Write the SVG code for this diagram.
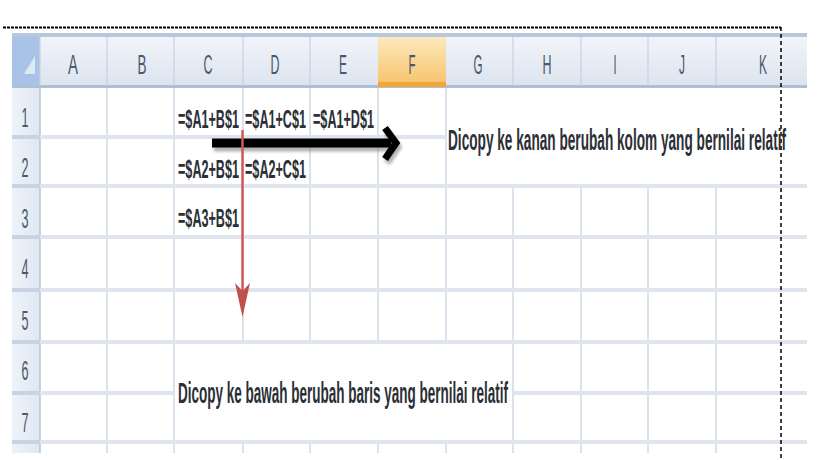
<svg xmlns="http://www.w3.org/2000/svg" width="819" height="460" viewBox="0 0 819 460">
<defs>
<linearGradient id="hdr" x1="0" y1="0" x2="0" y2="1"><stop offset="0" stop-color="#f3f6fb"/><stop offset="1" stop-color="#dbe3ee"/></linearGradient>
<linearGradient id="hdrF" x1="0" y1="0" x2="0" y2="1"><stop offset="0" stop-color="#fde9bf"/><stop offset="1" stop-color="#f7c36a"/></linearGradient>
<linearGradient id="rowh" x1="0" y1="0" x2="1" y2="0"><stop offset="0" stop-color="#eef3fa"/><stop offset="1" stop-color="#dfe7f2"/></linearGradient>
<filter id="blur" x="-10%" y="-50%" width="120%" height="200%"><feGaussianBlur stdDeviation="1.6"/></filter>
</defs>
<style>
.hl{font-family:"Liberation Sans",Arial,sans-serif;font-size:27px;fill:#4b5868;text-anchor:middle}
.rn{font-family:"Liberation Sans",Arial,sans-serif;font-size:27px;fill:#4b5868;text-anchor:middle}
.f{font-family:"Liberation Sans",Arial,sans-serif;font-size:26px;font-weight:bold;fill:#2b2f36}
.note{font-family:"Liberation Sans",Arial,sans-serif;font-size:30px;font-weight:bold;fill:#2b2f36}
.vg{stroke:#d3dbe8;stroke-width:1.6}
.hg{stroke:#dfe4ee;stroke-width:4}
.hgr{stroke:#c9d3e1;stroke-width:4}
.hsep{stroke:#c6d1df;stroke-width:1.2}
</style>
<rect width="819" height="460" fill="#ffffff"/>
<g id="sheet">
<rect x="40" y="88" width="767" height="365" fill="#ffffff"/>
<rect x="12" y="88" width="28" height="365" fill="url(#rowh)"/>
<line x1="40" y1="88" x2="40" y2="453" stroke="#b6c4d6" stroke-width="1.5"/>
<g id="vgrid">
<line class="vg" x1="107" y1="88" x2="107" y2="453"/>
<line class="vg" x1="174" y1="88" x2="174" y2="453"/>
<line class="vg" x1="243" y1="88" x2="243" y2="342"/>
<line class="vg" x1="243" y1="442" x2="243" y2="453"/>
<line class="vg" x1="310" y1="88" x2="310" y2="342"/>
<line class="vg" x1="310" y1="442" x2="310" y2="453"/>
<line class="vg" x1="378" y1="88" x2="378" y2="342"/>
<line class="vg" x1="378" y1="442" x2="378" y2="453"/>
<line class="vg" x1="446" y1="88" x2="446" y2="342"/>
<line class="vg" x1="446" y1="442" x2="446" y2="453"/>
<line class="vg" x1="513" y1="186" x2="513" y2="453"/>
<line class="vg" x1="581" y1="186" x2="581" y2="453"/>
<line class="vg" x1="648" y1="186" x2="648" y2="453"/>
<line class="vg" x1="716" y1="186" x2="716" y2="453"/>
</g>
<g id="hgrid">
<line class="hg" x1="40" y1="137" x2="446" y2="137"/>
<line class="hg" x1="40" y1="186" x2="807" y2="186"/>
<line class="hg" x1="40" y1="237" x2="807" y2="237"/>
<line class="hg" x1="40" y1="290" x2="807" y2="290"/>
<line class="hg" x1="40" y1="342" x2="807" y2="342"/>
<line class="hg" x1="40" y1="393" x2="174" y2="393"/>
<line class="hg" x1="513" y1="393" x2="807" y2="393"/>
<line class="hg" x1="40" y1="442" x2="807" y2="442"/>
<line class="hgr" x1="12" y1="137" x2="40" y2="137"/>
<line class="hgr" x1="12" y1="186" x2="40" y2="186"/>
<line class="hgr" x1="12" y1="237" x2="40" y2="237"/>
<line class="hgr" x1="12" y1="290" x2="40" y2="290"/>
<line class="hgr" x1="12" y1="342" x2="40" y2="342"/>
<line class="hgr" x1="12" y1="393" x2="40" y2="393"/>
<line class="hgr" x1="12" y1="442" x2="40" y2="442"/>
</g>
</g>
<g id="header">
<rect x="12" y="33" width="795" height="55" fill="url(#hdr)"/>
<rect x="12" y="33" width="795" height="4" fill="#b7c8dc"/>
<rect x="12" y="85" width="795" height="3" fill="#aebfd3"/>
<rect x="378" y="37" width="68" height="48" fill="url(#hdrF)"/>
<rect x="378" y="82" width="68" height="5" fill="#f1a53c"/>
<rect x="12" y="37" width="28" height="49" fill="#a9c3e6"/>
<polygon points="24,74 35,74 35,56" fill="#dfe8f5"/>
<g class="hsep">
<line x1="40" y1="37" x2="40" y2="85"/>
<line x1="107" y1="37" x2="107" y2="85"/>
<line x1="174" y1="37" x2="174" y2="85"/>
<line x1="243" y1="37" x2="243" y2="85"/>
<line x1="310" y1="37" x2="310" y2="85"/>
<line x1="513" y1="37" x2="513" y2="85"/>
<line x1="581" y1="37" x2="581" y2="85"/>
<line x1="648" y1="37" x2="648" y2="85"/>
<line x1="716" y1="37" x2="716" y2="85"/>
</g>
<text class="hl" x="73" y="74" textLength="10" lengthAdjust="spacingAndGlyphs">A</text>
<text class="hl" x="142" y="74" textLength="9" lengthAdjust="spacingAndGlyphs">B</text>
<text class="hl" x="208" y="74" textLength="9" lengthAdjust="spacingAndGlyphs">C</text>
<text class="hl" x="275" y="74" textLength="9" lengthAdjust="spacingAndGlyphs">D</text>
<text class="hl" x="343" y="74" textLength="8" lengthAdjust="spacingAndGlyphs">E</text>
<text class="hl" x="412" y="74" textLength="7" lengthAdjust="spacingAndGlyphs">F</text>
<text class="hl" x="478" y="74" textLength="9" lengthAdjust="spacingAndGlyphs">G</text>
<text class="hl" x="547" y="74" textLength="9" lengthAdjust="spacingAndGlyphs">H</text>
<text class="hl" x="615" y="74" textLength="3" lengthAdjust="spacingAndGlyphs">I</text>
<text class="hl" x="682" y="74" textLength="6" lengthAdjust="spacingAndGlyphs">J</text>
<text class="hl" x="763" y="74" textLength="8" lengthAdjust="spacingAndGlyphs">K</text>
</g>
<g id="rownums">
<text class="rn" x="25" y="127" textLength="7" lengthAdjust="spacingAndGlyphs">1</text>
<text class="rn" x="25" y="177" textLength="7" lengthAdjust="spacingAndGlyphs">2</text>
<text class="rn" x="25" y="228" textLength="7" lengthAdjust="spacingAndGlyphs">3</text>
<text class="rn" x="25" y="278" textLength="7" lengthAdjust="spacingAndGlyphs">4</text>
<text class="rn" x="25" y="330" textLength="7" lengthAdjust="spacingAndGlyphs">5</text>
<text class="rn" x="25" y="380" textLength="7" lengthAdjust="spacingAndGlyphs">6</text>
<text class="rn" x="25" y="432" textLength="7" lengthAdjust="spacingAndGlyphs">7</text>
</g>
<g id="frame" fill="none" stroke="#000">
<line x1="3" y1="27.5" x2="781" y2="27.5" stroke-width="2" stroke-dasharray="3 1"/>
<line x1="781" y1="27" x2="781" y2="460" stroke-width="1.5" stroke-dasharray="4 3"/>
</g>
<g id="connectors">
<g opacity="0.45" filter="url(#blur)" stroke="#555" fill="none">
<line x1="214" y1="147" x2="392" y2="147" stroke-width="9"/>
<polyline points="387,132 398,147 387,163" stroke-width="7"/>
</g>
<line x1="212" y1="143" x2="391" y2="143" stroke="#000" stroke-width="9"/>
<polyline points="385,128 396,143 385,159" fill="none" stroke="#000" stroke-width="7"/>
<line x1="242.5" y1="130" x2="242.5" y2="292" stroke="#cc5a58" stroke-width="2.5"/>
<polygon points="235,283 242.5,291 250,283 242.5,317" fill="#c0504d"/>
</g>
<g id="cell-C1"><text class="f" x="178" y="128" textLength="61" lengthAdjust="spacingAndGlyphs">=$A1+B$1</text></g>
<g id="cell-D1"><text class="f" x="245" y="128" textLength="61" lengthAdjust="spacingAndGlyphs">=$A1+C$1</text></g>
<g id="cell-E1"><text class="f" x="313" y="128" textLength="61" lengthAdjust="spacingAndGlyphs">=$A1+D$1</text></g>
<g id="cell-C2"><text class="f" x="178" y="178" textLength="61" lengthAdjust="spacingAndGlyphs">=$A2+B$1</text></g>
<g id="cell-D2"><text class="f" x="245" y="178" textLength="61" lengthAdjust="spacingAndGlyphs">=$A2+C$1</text></g>
<g id="cell-C3"><text class="f" x="178" y="227" textLength="61" lengthAdjust="spacingAndGlyphs">=$A3+B$1</text></g>
<g id="note-right"><text class="note" x="448" y="150" textLength="338" lengthAdjust="spacingAndGlyphs">Dicopy ke kanan berubah kolom yang bernilai relatif</text></g>
<g id="note-bottom"><text class="note" x="178" y="403" font-size="29" textLength="330" lengthAdjust="spacingAndGlyphs">Dicopy ke bawah berubah baris yang bernilai relatif</text></g>
</svg>
